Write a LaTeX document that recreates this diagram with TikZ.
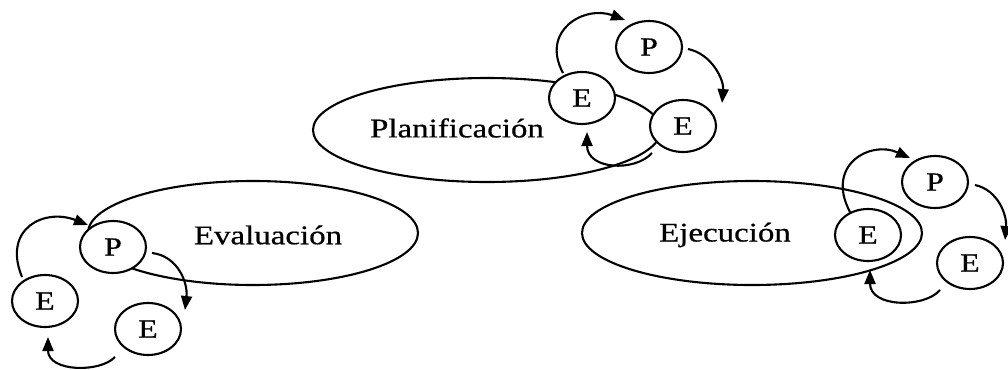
\documentclass[tikz,border=0pt]{standalone}
\usepackage{graphicx}
\usepackage{fontspec}
\setmainfont{Liberation Serif}
\newfontfamily\heavyfont{Liberation Serif}[FakeBold=0.6]
\usetikzlibrary{shapes.geometric,arrows.meta,calc}
\tikzset{
  big/.style={draw, ellipse, line width=2.1pt, inner sep=0pt},
  small/.style={draw, ellipse, fill=white, line width=2.1pt, inner sep=0pt,
    minimum width=66pt, minimum height=52pt, font=\heavyfont\fontsize{26}{28}\selectfont},
  lbl/.style={font=\heavyfont\fontsize{27}{30}\selectfont, inner sep=0pt},
  arr/.style={line width=2.1pt, -{Triangle[length=14pt,width=11pt]}}
}
\newcommand{\widetxt}[1]{\scalebox{1.22}[1]{#1}}
\begin{document}
\begin{tikzpicture}[x=1pt,y=-1pt]
\path[use as bounding box] (0,0) rectangle (1008,369);
% big ellipses
\node[big, minimum width=330pt, minimum height=104pt] (eval) at (253,233) {};
\node[big, minimum width=348pt, minimum height=104pt] (plan) at (487,130) {};
\node[big, minimum width=340pt, minimum height=104pt] (ejec) at (752,233) {};
\node[lbl] (evalt) at (268,235) {\widetxt{Evaluación}};
\node[lbl] (plant) at (457,128) {\widetxt{Planificación}};
\node[lbl] (eject) at (725,235) {\widetxt{Ejecución}};
% Evaluacion cycle
\node[small] (evP) at (113,247) {\widetxt{P}};
\node[small] (evE1) at (45,301) {\widetxt{E}};
\node[small] (evE2) at (148,329) {\widetxt{E}};
% Planificacion cycle
\node[small] (plP) at (649,47) {\widetxt{P}};
\node[small] (plEu) at (582,98) {\widetxt{E}};
\node[small] (plEr) at (683,126) {\widetxt{E}};
% Ejecucion cycle
\node[small] (ejP) at (935,182) {\widetxt{P}};
\node[small] (ejEi) at (868,235) {\widetxt{E}};
\node[small] (ejEr) at (970,263) {\widetxt{E}};
% arrows Evaluacion
\draw[arr] ($(evE1)+(-23,-24)$) .. controls (2,228) and (45,208) .. ($(evP)+(-25,-22)$);
\draw[arr] ($(evP)+(39,6)$) .. controls (178,256) and (188,283) .. ($(evE2)+(37,-19)$);
\draw[arr] ($(evE2)+(-33,28)$) .. controls (100,373) and (48,372) .. ($(evE1)+(3,36)$);
% arrows Planificacion
\draw[arr] ($(plEu)+(-19,-25)$) .. controls (540,30) and (585,5) .. ($(plP)+(-24,-27)$);
\draw[arr] ($(plP)+(39,2)$) .. controls (712,54) and (724,80) .. ($(plEr)+(39,-23)$);
\draw[arr] ($(plEr)+(-31,27)$) .. controls (635,172) and (587,170) .. ($(plEu)+(5,34)$);
% arrows Ejecucion
\draw[arr] ($(ejEi)+(-18,-23)$) .. controls (825,165) and (870,140) .. ($(ejP)+(-25,-24)$);
\draw[arr] ($(ejP)+(40,3)$) .. controls (998,190) and (1007,215) .. ($(ejEr)+(35,-23)$);
\draw[arr] ($(ejEr)+(-30,27)$) .. controls (925,308) and (870,308) .. ($(ejEi)+(2,35)$);
\end{tikzpicture}
\end{document}
